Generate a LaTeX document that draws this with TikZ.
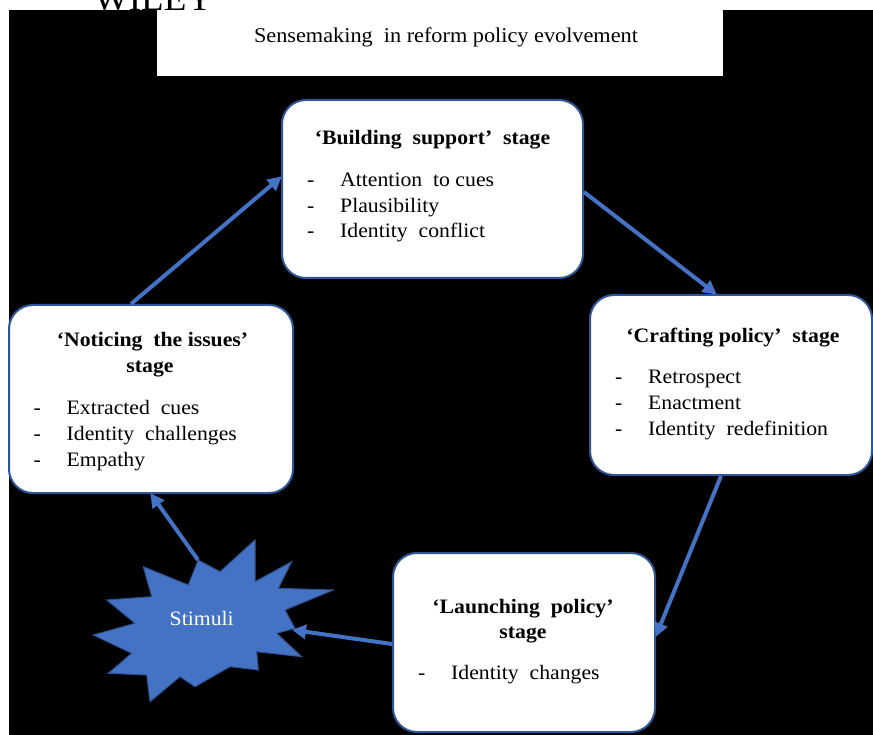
\documentclass[tikz,border=0pt]{standalone}
\usepackage{fontspec}
\setmainfont{Liberation Serif}[FakeStretch=1.06]
\usetikzlibrary{arrows.meta}
\definecolor{arrowblue}{HTML}{4472C4}
\definecolor{boxline}{HTML}{2F5597}
\definecolor{starline}{HTML}{2F528F}
\newcommand{\itemdash}{\makebox[33pt][l]{-}}
\tikzset{
  stagebox/.style={draw=boxline, line width=2pt, fill=white, rounded corners=24pt, inner sep=0pt},
  head/.style={font=\fontsize{20.5}{25}\selectfont\bfseries, inner sep=0pt, anchor=base},
  itm/.style={font=\fontsize{20.5}{25}\selectfont, inner sep=0pt, anchor=base west},
  flow/.style={draw=arrowblue, line width=4pt, -{Triangle[length=14pt,width=14pt]}, shorten >=-1pt}
}
\begin{document}
\begin{tikzpicture}[x=1pt,y=-1pt]
\useasboundingbox (0,0) rectangle (873,735);
\clip (0,0) rectangle (873,735);
\fill[white] (0,0) rectangle (873,735);
\fill[black] (9,10) rectangle (873,735);
% title
\node[fill=white, minimum width=566pt, minimum height=66pt, inner sep=0pt] (titlebox) at (440,43) {};
\node[font=\fontsize{21}{25}\selectfont, inner sep=0pt, anchor=base] (title) at (446,43) {Sensemaking\ \ in reform policy evolvement};
\node[font=\fontsize{35}{40}\selectfont, inner sep=0pt, anchor=base] (wiley) at (153.5,10.5) {WILEY};
% stage boxes
\node[stagebox, minimum width=301pt, minimum height=178pt] (bs) at (432.5,189) {};
\node[stagebox, minimum width=282pt, minimum height=180pt] (cp) at (731,385) {};
\node[stagebox, minimum width=284pt, minimum height=188pt] (nt) at (151,399) {};
\node[stagebox, minimum width=262pt, minimum height=179pt] (lp) at (524,642.5) {};
% building support
\node[head] (bsh) at (432.5,145) {‘Building\ \ support’\ \ stage};
\node[itm] (bs1) at (307,187) {\itemdash Attention\ \ to cues};
\node[itm] (bs2) at (307,212.5) {\itemdash Plausibility};
\node[itm] (bs3) at (307,238) {\itemdash Identity\ \ conflict};
% crafting policy
\node[head] (cph) at (733,342) {‘Crafting policy’\ \ stage};
\node[itm] (cp1) at (615,383.5) {\itemdash Retrospect};
\node[itm] (cp2) at (615,409.5) {\itemdash Enactment};
\node[itm] (cp3) at (615,435.5) {\itemdash Identity\ \ redefinition};
% noticing the issues
\node[head] (nth1) at (152.5,347) {‘Noticing\ \ the issues’};
\node[head] (nth2) at (150,372) {stage};
\node[itm] (nt1) at (33.5,414) {\itemdash Extracted\ \ cues};
\node[itm] (nt2) at (33.5,440) {\itemdash Identity\ \ challenges};
\node[itm] (nt3) at (33.5,466) {\itemdash Empathy};
% launching policy
\node[head] (lph1) at (523,613) {‘Launching\ \ policy’};
\node[head] (lph2) at (523,638) {stage};
\node[itm] (lp1) at (418,679) {\itemdash Identity\ \ changes};
% stimuli star
\filldraw[fill=arrowblue, draw=starline, line width=1pt, line join=miter]
 (143.3,566.7) -- (188.3,585) -- (198.3,560) -- (220,571.7) -- (255,540) -- (255,581.7)
 -- (291.7,561.7) -- (278.3,588.3) -- (333.3,590) -- (285,610) -- (295,628.3) -- (276.7,633.3)
 -- (301.7,656.7) -- (256.7,651.7) -- (258.3,670) -- (230,666.7) -- (195,686.7) -- (180,676.7)
 -- (150,701.7) -- (146.7,675) -- (108.3,673.3) -- (131.7,653.3) -- (93.3,635) -- (135,623.3)
 -- (106.7,600) -- (151.7,596.7) -- cycle;
\node[font=\fontsize{20.5}{25}\selectfont, text=white, inner sep=0pt, anchor=base] (stim) at (201.7,625) {Stimuli};
\coordinate (stimR) at (293,630);
\coordinate (stimT) at (198,560);
% connectors
\draw[flow] ([xshift=123pt]nt.north west) -- ([yshift=-78pt]bs.north west);
\draw[flow] ([yshift=-93pt]bs.north east) -- ([xshift=127pt]cp.north west);
\draw[flow] ([xshift=132pt]cp.south west) -- ([yshift=-84pt]lp.north east);
\draw[flow] ([yshift=-92pt]lp.north west) -- (stimR);
\draw[flow] (stimT) -- ([xshift=143pt]nt.south west);
\end{tikzpicture}
\end{document}
